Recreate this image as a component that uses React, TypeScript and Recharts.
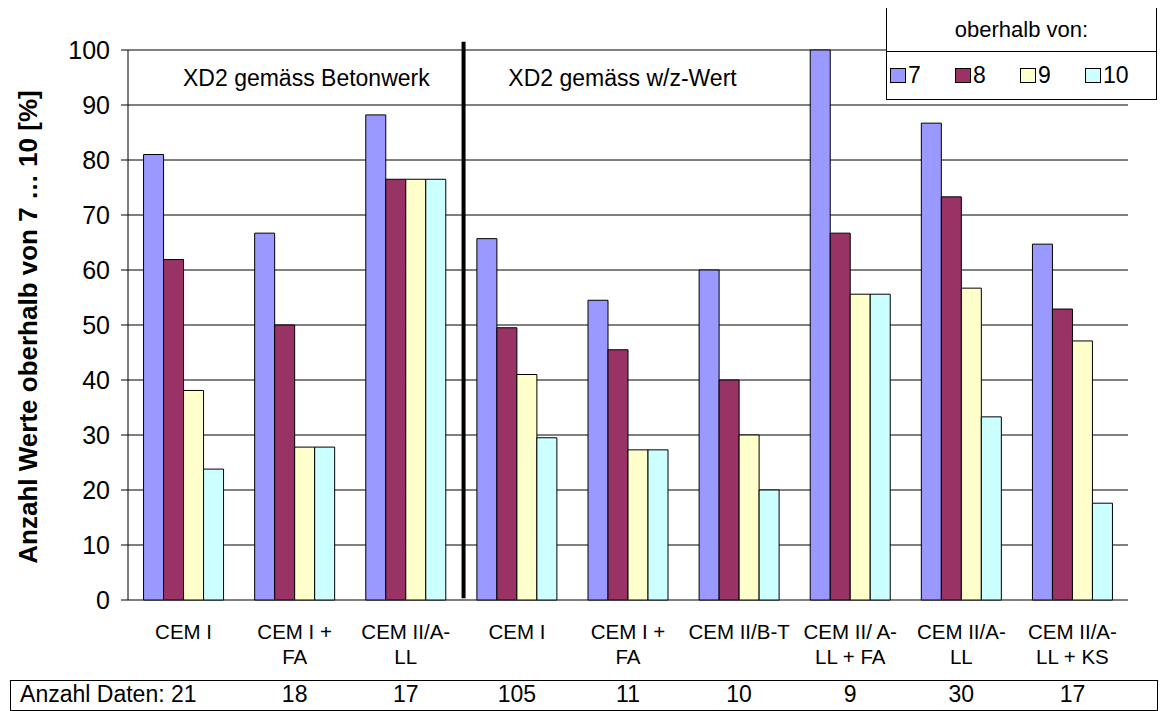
import React from 'react'
import { BarChart, Bar, XAxis, YAxis, CartesianGrid, Legend, ReferenceLine, ReferenceArea } from 'recharts'

const categories = [
  'CEM I',
  'CEM I +\nFA',
  'CEM II/A-\nLL',
  'CEM I',
  'CEM I +\nFA',
  'CEM II/B-T',
  'CEM II/ A-\nLL + FA',
  'CEM II/A-\nLL',
  'CEM II/A-\nLL + KS',
]
const above7 = [81.0, 66.7, 88.2, 65.7, 54.5, 60.0, 100, 86.7, 64.7]
const above8 = [61.9, 50.0, 76.5, 49.5, 45.5, 40.0, 66.7, 73.3, 52.9]
const above9 = [38.1, 27.8, 76.5, 41.0, 27.3, 30.0, 55.6, 56.7, 47.1]
const above10 = [23.8, 27.8, 76.5, 29.5, 27.3, 20.0, 55.6, 33.3, 17.6]
const counts = [21, 18, 17, 105, 11, 10, 9, 30, 17]
const seriesNames = ['7', '8', '9', '10']
const seriesColors = ['#9999FF', '#993366', '#FFFFCC', '#CCFFFF']
const yTicks = [0, 10, 20, 30, 40, 50, 60, 70, 80, 90, 100]
const minorTicks = Array.from({ length: 51 }, (_, i) => i * 2)
const bandTicks = [0, 1, 2, 3, 4, 5, 6, 7, 8, 9]

const FONT = '"Liberation Sans", Arial, sans-serif'

const data = categories.map((c, i) => ({
  id: i,
  cat: c,
  a7: above7[i],
  a8: above8[i],
  a9: above9[i],
  a10: above10[i],
}))

function CategoryTick(props: any) {
  const { x, y, payload } = props
  const lines = categories[payload.index ?? payload.value].split('\n')
  return (
    <text x={x} y={y} textAnchor="middle" fontSize={20.5} fontFamily={FONT} fill="#000">
      {lines.map((l, i) => (
        <tspan key={i} x={x} dy={i === 0 ? 39 : 25}>
          {l}
        </tspan>
      ))}
    </text>
  )
}

function CountTick(props: any) {
  const { x, y, payload } = props
  const idx = payload.index ?? payload.value
  if (idx === 0) {
    return (
      <text x={x + 13} y={y + 32} textAnchor="end" fontSize={23} fontFamily={FONT} fill="#000">
        Anzahl Daten: {counts[idx]}
      </text>
    )
  }
  return (
    <text x={x} y={y + 32} textAnchor="middle" fontSize={23} fontFamily={FONT} fill="#000">
      {counts[idx]}
    </text>
  )
}

function LegendBox() {
  return (
    <div
      style={{
        width: 271,
        border: '1px solid #000',
        fontFamily: FONT,
        background: '#fff',
        boxSizing: 'border-box',
      }}
    >
      <div style={{ height: 43, lineHeight: '43px', textAlign: 'center', fontSize: 22, borderBottom: '1px solid #000' }}>
        oberhalb von:
      </div>
      <div style={{ height: 47, display: 'flex', alignItems: 'center', fontSize: 23, paddingLeft: 3 }}>
        {seriesNames.map((n, i) => (
          <div key={n} style={{ display: 'flex', alignItems: 'center', width: i === 3 ? 60 : 65 }}>
            <span
              style={{
                display: 'inline-block',
                width: 14,
                height: 13,
                background: seriesColors[i],
                border: '1px solid #000',
                marginRight: 2,
              }}
            />
            {n}
          </div>
        ))}
      </div>
    </div>
  )
}

function YTitle(props: any) {
  const vb = props.viewBox
  const cx = 28
  const cy = vb.y + vb.height / 2 + 2
  return (
    <text
      x={cx}
      y={cy}
      transform={`rotate(-90 ${cx} ${cy})`}
      textAnchor="middle"
      dominantBaseline="central"
      fontSize={26}
      fontWeight="bold"
      fontFamily={FONT}
      fill="#000"
    >
      Anzahl Werte oberhalb von 7 … 10 [%]
    </text>
  )
}

export default function App() {
  return (
    <div style={{ position: 'relative', width: 1174, height: 711, marginLeft: -8, marginTop: -8, background: '#fff' }}>
      <div
        style={{
          position: 'absolute',
          left: 10,
          top: 680,
          width: 1148,
          height: 31,
          border: '1px solid #000',
          boxSizing: 'border-box',
        }}
      />
      <div style={{ position: 'absolute', left: 0, top: 0 }}>
        <BarChart
          width={1174}
          height={711}
          data={data}
          margin={{ top: 50, right: 46, left: 0, bottom: 0 }}
          barCategoryGap="14%"
          barGap={0}
        >
          <CartesianGrid vertical={false} stroke="#000" strokeWidth={1} />
          <XAxis
            xAxisId="band"
            type="number"
            dataKey="id"
            domain={[0, 9]}
            ticks={bandTicks}
            tickFormatter={() => ''}
            height={0}
            tickSize={6}
            stroke="#000"
            allowDataOverflow
          />
          <XAxis
            dataKey="id"
            type="category"
            height={70}
            tick={<CategoryTick />}
            tickLine={false}
            axisLine={false}
            tickSize={0}
            tickMargin={0}
            interval={0}
          />
          <XAxis
            xAxisId="counts"
            dataKey="id"
            type="category"
            height={41}
            tick={<CountTick />}
            tickLine={false}
            axisLine={false}
            tickSize={0}
            tickMargin={0}
            interval={0}
          />
          <YAxis
            yAxisId="minor"
            mirror
            width={0}
            domain={[0, 100]}
            ticks={minorTicks}
            tickFormatter={() => ''}
            tickSize={5}
            axisLine={false}
            stroke="#000"
          />
          <YAxis
            width={128}
            domain={[0, 100]}
            ticks={yTicks}
            tickSize={7}
            tickMargin={11}
            stroke="#000"
            tick={{ fontSize: 25, fill: '#000', fontFamily: FONT }}
            label={{ content: <YTitle /> }}
          />
          <Legend
            verticalAlign="middle"
            layout="horizontal"
            content={<LegendBox />}
            wrapperStyle={{ position: 'absolute', top: 7, left: 886, width: 271 }}
          />
          <ReferenceArea
            xAxisId="band"
            x1={0}
            x2={3}
            y1={90}
            y2={100}
            fill="none"
            fillOpacity={0}
            stroke="none"
            label={{ value: 'XD2 gemäss Betonwerk', position: 'insideLeft', offset: 55, fontSize: 23, fill: '#000', fontFamily: FONT }}
          />
          <ReferenceArea
            xAxisId="band"
            x1={3}
            x2={9}
            y1={90}
            y2={100}
            fill="none"
            fillOpacity={0}
            stroke="none"
            label={{ value: 'XD2 gemäss w/z-Wert', position: 'insideLeft', offset: 47, fontSize: 23, fill: '#000', fontFamily: FONT }}
          />
          <Bar dataKey="a7" name={seriesNames[0]} fill={seriesColors[0]} stroke="#000" strokeWidth={1} isAnimationActive={false} />
          <Bar dataKey="a8" name={seriesNames[1]} fill={seriesColors[1]} stroke="#000" strokeWidth={1} isAnimationActive={false} />
          <Bar dataKey="a9" name={seriesNames[2]} fill={seriesColors[2]} stroke="#000" strokeWidth={1} isAnimationActive={false} />
          <Bar dataKey="a10" name={seriesNames[3]} fill={seriesColors[3]} stroke="#000" strokeWidth={1} isAnimationActive={false} />
          <ReferenceLine
            xAxisId="band"
            segment={[
              { x: 3.02, y: 101.5 },
              { x: 3.02, y: 0.3 },
            ]}
            stroke="#000"
            strokeWidth={4}
            ifOverflow="visible"
          />
        </BarChart>
      </div>
    </div>
  )
}
